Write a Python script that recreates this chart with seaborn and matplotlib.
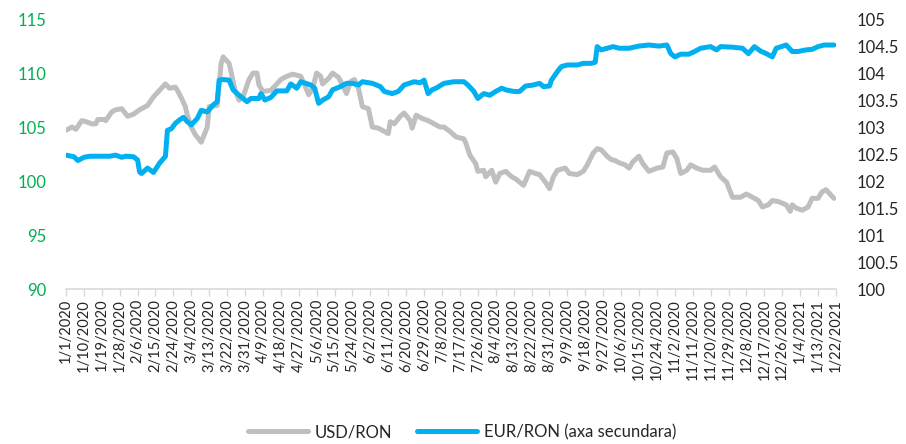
import pandas as pd
import matplotlib
matplotlib.use("Agg")
import matplotlib.pyplot as plt
import seaborn as sns

sns.set_style("white")
plt.rcParams['font.family'] = ['Lato', 'DejaVu Sans']

# days after 1 Jan 2020
usd_days = [0, 3, 5, 8, 10, 13, 15, 16, 19, 20, 23, 25, 28, 31, 34, 37, 41, 44, 47, 50,
            52, 55, 56, 58, 60, 61, 63, 65, 68, 71, 72, 76, 78, 79, 82, 83, 85, 87, 89, 92,
            94, 96, 97, 99, 103, 106, 108, 111, 114, 118, 120, 122, 124, 126, 128, 129, 132, 134, 137, 139,
            141, 143, 145, 147, 149, 152, 154, 157, 159, 162, 163, 165, 168, 170, 173, 174, 176, 179, 182, 185,
            188, 190, 193, 196, 200, 201, 203, 206, 207, 210, 211, 214, 216, 218, 221, 224, 226, 230, 233, 236,
            238, 241, 243, 245, 247, 251, 253, 257, 260, 262, 265, 267, 269, 272, 274, 276, 278, 281, 283, 285,
            288, 290, 293, 297, 300, 302, 305, 307, 309, 312, 314, 317, 320, 324, 326, 329, 332, 335, 339, 342,
            345, 348, 350, 353, 355, 358, 362, 364, 365, 367, 370, 373, 375, 378, 380, 382, 384, 386]
usd_ron = [104.7, 105.0, 104.8, 105.6, 105.5, 105.3, 105.3, 105.7, 105.7, 105.6, 106.4, 106.6, 106.7, 106.0, 106.2, 106.6, 107.0, 107.8, 108.4, 109.0,
           108.6, 108.7, 108.4, 107.7, 106.9, 106.1, 105.0, 104.3, 103.6, 105.0, 106.9, 107.0, 110.9, 111.5, 110.9, 110.1, 108.4, 107.5, 107.8, 109.4,
           110.0, 110.0, 108.9, 108.3, 108.4, 109.0, 109.4, 109.7, 109.9, 109.7, 108.9, 108.0, 108.6, 110.0, 109.7, 109.0, 109.5, 110.0, 109.6, 108.9,
           108.1, 109.2, 109.4, 108.6, 106.9, 106.7, 105.0, 104.9, 104.7, 104.4, 105.5, 105.3, 106.0, 106.3, 105.6, 104.9, 106.1, 105.8, 105.6, 105.3,
           105.0, 105.0, 104.6, 104.1, 103.9, 103.5, 102.4, 101.6, 100.9, 101.0, 100.4, 101.0, 99.9, 100.7, 100.9, 100.4, 100.2, 99.6, 100.9, 100.7,
           100.6, 99.9, 99.3, 100.4, 101.0, 101.2, 100.7, 100.6, 100.9, 101.5, 102.6, 103.0, 102.9, 102.3, 102.0, 101.9, 101.7, 101.5, 101.2, 101.8,
           102.3, 101.6, 100.9, 101.2, 101.3, 102.6, 102.7, 102.1, 100.7, 101.0, 101.5, 101.2, 101.0, 101.0, 101.3, 100.4, 99.9, 98.5, 98.5, 98.8,
           98.5, 98.2, 97.6, 97.8, 98.2, 98.1, 97.8, 97.2, 97.8, 97.5, 97.3, 97.6, 98.4, 98.4, 99.0, 99.2, 98.8, 98.4]

eur_days = [0, 4, 6, 9, 12, 17, 22, 25, 28, 30, 34, 36, 37, 38, 41, 44, 47, 50, 51, 53,
            55, 57, 59, 61, 63, 66, 68, 71, 74, 76, 77, 79, 82, 84, 87, 91, 93, 97, 98, 100,
            103, 106, 111, 113, 116, 118, 123, 125, 127, 129, 132, 134, 138, 141, 144, 147, 149, 154, 158, 160,
            164, 167, 170, 175, 178, 180, 182, 184, 186, 190, 195, 200, 202, 205, 207, 210, 213, 216, 219, 221,
            225, 228, 231, 235, 238, 240, 243, 244, 247, 249, 252, 257, 260, 264, 266, 267, 269, 272, 275, 278,
            283, 288, 293, 298, 302, 304, 306, 309, 313, 316, 319, 324, 327, 329, 335, 340, 343, 346, 349, 352,
            355, 357, 362, 365, 368, 372, 375, 378, 381, 386]
eur_ron = [102.48, 102.45, 102.38, 102.44, 102.46, 102.46, 102.46, 102.48, 102.44, 102.46, 102.45, 102.39, 102.17, 102.14, 102.24, 102.16, 102.33, 102.46, 102.94, 102.97,
           103.07, 103.13, 103.18, 103.10, 103.04, 103.16, 103.31, 103.28, 103.41, 103.47, 103.87, 103.88, 103.87, 103.69, 103.59, 103.47, 103.53, 103.53, 103.62, 103.50,
           103.55, 103.67, 103.67, 103.80, 103.72, 103.84, 103.78, 103.72, 103.44, 103.50, 103.56, 103.69, 103.75, 103.81, 103.81, 103.78, 103.84, 103.81, 103.75, 103.66,
           103.62, 103.66, 103.78, 103.84, 103.82, 103.87, 103.62, 103.69, 103.72, 103.81, 103.84, 103.84, 103.78, 103.66, 103.53, 103.62, 103.59, 103.66, 103.72, 103.69,
           103.66, 103.66, 103.76, 103.78, 103.81, 103.75, 103.76, 103.87, 104.03, 104.12, 104.15, 104.15, 104.18, 104.18, 104.20, 104.49, 104.43, 104.46, 104.49, 104.46,
           104.46, 104.50, 104.52, 104.50, 104.52, 104.36, 104.30, 104.35, 104.35, 104.40, 104.46, 104.49, 104.43, 104.49, 104.48, 104.46, 104.36, 104.49, 104.41, 104.36,
           104.30, 104.46, 104.52, 104.40, 104.40, 104.43, 104.44, 104.49, 104.52, 104.52]

start = pd.Timestamp("2020-01-01")
usd = pd.DataFrame({"date": start + pd.to_timedelta(usd_days, unit="D"), "USD/RON": usd_ron})
eur = pd.DataFrame({"date": start + pd.to_timedelta(eur_days, unit="D"), "EUR/RON": eur_ron})

fig = plt.figure(figsize=(9.06, 4.44), dpi=100)
ax = fig.add_axes([0.0728, 0.349, 0.8499, 0.608])
ax2 = ax.twinx()

sns.lineplot(data=usd, x="date", y="USD/RON", ax=ax, color="#BFBFBF", linewidth=3.6)
sns.lineplot(data=eur, x="date", y="EUR/RON", ax=ax2, color="#00B0F0", linewidth=3.6)

end = pd.Timestamp("2021-01-22")
ax.set_xlim(start, end)
ticks = pd.date_range(start, end, freq="9D")
ax.set_xticks(ticks)
ax.set_xticklabels([f"{d.month}/{d.day}/{d.year}" for d in ticks], rotation=90, fontsize=10.5)

ax.set_ylim(90, 115)
ax.set_yticks(range(90, 116, 5))
ax.set_yticklabels([str(v) for v in range(90, 116, 5)], fontsize=12, color="#00B050")
ax2.set_ylim(100, 105)
rticks = [100 + 0.5 * i for i in range(11)]
ax2.set_yticks(rticks)
ax2.set_yticklabels([f"{v:g}" for v in rticks], fontsize=12)

for a in (ax, ax2):
    a.set_xlabel("")
    a.set_ylabel("")
    for s in a.spines.values():
        s.set_visible(False)
ax.spines["bottom"].set_visible(True)
ax.spines["bottom"].set_color("#D9D9D9")
ax.spines["bottom"].set_linewidth(1.2)

ax.tick_params(axis="x", length=5, width=1, color="#D9D9D9", pad=2, bottom=True)
ax.tick_params(axis="y", length=0, pad=14)
ax2.tick_params(axis="y", length=0, pad=15)

handles = [ax.lines[0], ax2.lines[0]]
fig.legend(handles, ["USD/RON", "EUR/RON (axa secundara)"], loc="center",
           bbox_to_anchor=(0.51, 0.027), ncol=2, frameon=False, fontsize=12,
           handlelength=3.6, columnspacing=1.5, handletextpad=0.4)

fig.savefig("out.png", dpi=100)
